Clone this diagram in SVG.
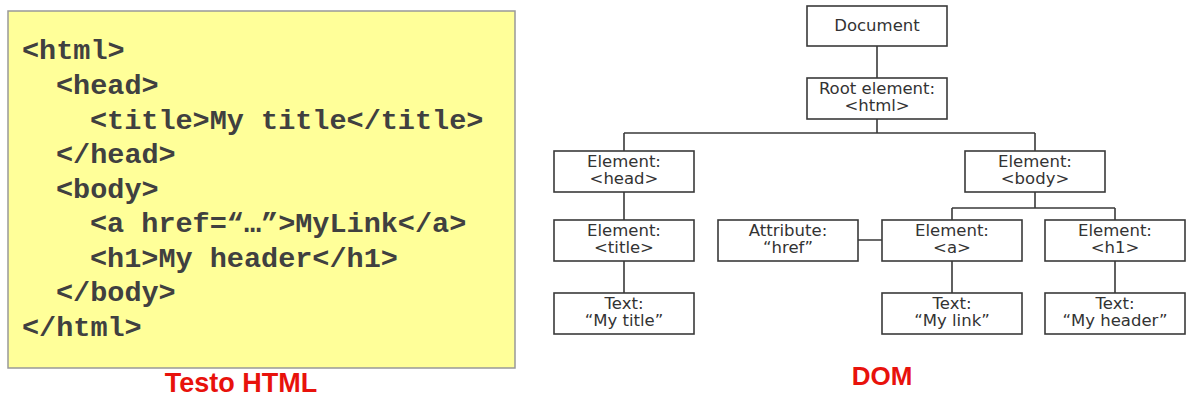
<svg xmlns="http://www.w3.org/2000/svg" width="1188" height="398" viewBox="0 0 1188 398">
<style>
.code{font-family:"Liberation Mono","Courier New",monospace;font-weight:bold;font-size:28.5px;fill:#404040}
.box{fill:#fff;stroke:#3a3a3a;stroke-width:1.6}
.lbl{font-family:"DejaVu Sans",Verdana,sans-serif;font-size:16.5px;fill:#333;text-anchor:middle}
.cap{font-family:"Liberation Sans",Arial,sans-serif;font-weight:bold;fill:#e8120c;text-anchor:middle}
.con{stroke:#3a3a3a;stroke-width:1.6;fill:none}
</style>
<rect width="1188" height="398" fill="#fff"/>
<g id="html-source">
<rect x="8" y="11" width="507" height="357" fill="#ffff99" stroke="#999" stroke-width="1.5"/>
<text class="code" x="22" y="59">&lt;html&gt;</text>
<text class="code" x="56" y="94">&lt;head&gt;</text>
<text class="code" x="90" y="129">&lt;title&gt;My title&lt;/title&gt;</text>
<text class="code" x="56" y="163">&lt;/head&gt;</text>
<text class="code" x="56" y="198">&lt;body&gt;</text>
<text class="code" x="90" y="232">&lt;a href=“…”&gt;MyLink&lt;/a&gt;</text>
<text class="code" x="90" y="267">&lt;h1&gt;My header&lt;/h1&gt;</text>
<text class="code" x="56" y="301">&lt;/body&gt;</text>
<text class="code" x="22" y="336">&lt;/html&gt;</text>
<text class="cap" x="241" y="392" font-size="27">Testo HTML</text>
</g>
<g id="connectors">
<path class="con" d="M877 46V78M877 119V133M624 133H1035M624 133V151M1035 133V151M624 192V220M624 261V293M1035 192V208M952 208H1115M952 208V220M1115 208V220M952 261V293M1115 261V293M858 240H882"/>
</g>
<g id="document"><rect class="box" x="807" y="6" width="140" height="40"/><text class="lbl" x="877" y="31">Document</text></g>
<g id="root"><rect class="box" x="807" y="78" width="140" height="41"/><text class="lbl" x="877" y="94">Root element:</text><text class="lbl" x="877" y="111">&lt;html&gt;</text></g>
<g id="head"><rect class="box" x="554" y="151" width="140" height="41"/><text class="lbl" x="624" y="167">Element:</text><text class="lbl" x="624" y="184">&lt;head&gt;</text></g>
<g id="body"><rect class="box" x="965" y="151" width="140" height="41"/><text class="lbl" x="1035" y="167">Element:</text><text class="lbl" x="1035" y="184">&lt;body&gt;</text></g>
<g id="title"><rect class="box" x="554" y="220" width="140" height="41"/><text class="lbl" x="624" y="236">Element:</text><text class="lbl" x="624" y="253">&lt;title&gt;</text></g>
<g id="attr"><rect class="box" x="718" y="220" width="140" height="41"/><text class="lbl" x="788" y="236">Attribute:</text><text class="lbl" x="788" y="253">“href”</text></g>
<g id="a"><rect class="box" x="882" y="220" width="140" height="41"/><text class="lbl" x="952" y="236">Element:</text><text class="lbl" x="952" y="253">&lt;a&gt;</text></g>
<g id="h1"><rect class="box" x="1045" y="220" width="140" height="41"/><text class="lbl" x="1115" y="236">Element:</text><text class="lbl" x="1115" y="253">&lt;h1&gt;</text></g>
<g id="text-title"><rect class="box" x="554" y="293" width="140" height="41"/><text class="lbl" x="624" y="309">Text:</text><text class="lbl" x="624" y="326">“My title”</text></g>
<g id="text-link"><rect class="box" x="882" y="293" width="140" height="41"/><text class="lbl" x="952" y="309">Text:</text><text class="lbl" x="952" y="326">“My link”</text></g>
<g id="text-header"><rect class="box" x="1045" y="293" width="140" height="41"/><text class="lbl" x="1115" y="309">Text:</text><text class="lbl" x="1115" y="326">“My header”</text></g>
<text class="cap" x="882" y="385" font-size="26">DOM</text>
</svg>
